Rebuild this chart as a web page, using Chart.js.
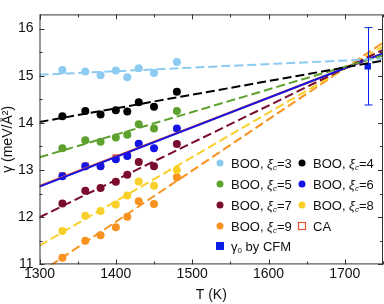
<!DOCTYPE html>
<html>
<head>
<meta charset="utf-8">
<script src="https://cdn.jsdelivr.net/npm/chart.js@4"></script>
<style>
  html, body { margin: 0; padding: 0; background: #fff; }
  #wrap { width: 384px; height: 304px; }
</style>
</head>
<body>
<div id="wrap"><canvas id="chart" width="384" height="304"></canvas></div>
<script>
// temperatures of the BOO points
const temps = [1330, 1360, 1380, 1400, 1415, 1430, 1450, 1480];

// surface tension per xi_c
const boo3 = [15.12, 15.09, 15.01, 15.11, 14.97, 15.16, 15.06, 15.29];
const boo4 = [14.14, 14.25, 14.18, 14.27, 14.24, 14.44, 14.34, 14.66];
const boo5 = [13.46, 13.63, 13.60, 13.69, 13.75, 13.97, 13.88, 14.25];
const boo6 = [12.87, 13.08, 13.08, 13.23, 13.30, 13.56, 13.46, 13.88];
const boo7 = [12.29, 12.56, 12.62, 12.75, 12.90, 13.17, 13.08, 13.55];
const boo8 = [11.71, 12.03, 12.13, 12.27, 12.46, 12.76, 12.67, 13.00];
const boo9 = [11.14, 11.50, 11.62, 11.79, 12.01, 12.34, 12.28, 12.85];
const caTemps = [1330, 1360, 1380, 1400, 1415];
const ca = [12.88, 13.09, 13.09, 13.26, 13.31];

// fitted lines, value at each end
const fitT = [1300, 1750];
const fit3 = [15.02, 15.36];
const fit4 = [14.02, 15.32];
const fit5 = [13.27, 15.43];
const fit6 = [12.65, 15.47];
const fit7 = [12.00, 15.55];
const fit8 = [11.40, 15.62];
const fit9 = [10.82, 15.70];
const fitCA = [12.66, 15.47];

// CFM value
const cfmT = [1730];
const cfmGamma = [15.2];
const cfmErr = [0.82];

const xTicks = [1300, 1400, 1500, 1600, 1700];
const yTicks = [11, 12, 13, 14, 15, 16];

const colors = {
  3: '#8ccaf2', 4: '#000000', 5: '#5ea12e', 6: '#1414e6',
  7: '#7a0c2e', 8: '#f9d02a', 9: '#f7931e', ca: '#e8552c', cfm: '#0a1ee6'
};

function pts(xs, ys) { return xs.map((x, i) => ({ x: x, y: ys[i] })); }

function fitSet(ys, color, dash, width) {
  return { type: 'line', data: pts(fitT, ys), borderColor: color, borderWidth: width || 2,
    borderDash: dash, pointRadius: 0, fill: false };
}
function dotSet(ys, color) {
  return { type: 'scatter', data: pts(temps, ys), backgroundColor: color,
    borderColor: color, pointRadius: 4, pointBorderWidth: 0 };
}

// chart.js paints the first dataset last, so blue sits above the CA line
const datasets = [
  fitSet(fit3, colors[3], [9, 4]),
  fitSet(fit4, colors[4], [9, 4]),
  fitSet(fit5, colors[5], [9, 4]),
  fitSet(fit6, colors[6], [], 2),
  fitSet(fitCA, colors.ca, [], 2.2),
  fitSet(fit7, colors[7], [9, 4]),
  fitSet(fit8, colors[8], [9, 4]),
  fitSet(fit9, colors[9], [9, 4]),
  dotSet(boo3, colors[3]),
  dotSet(boo4, colors[4]),
  dotSet(boo5, colors[5]),
  dotSet(boo6, colors[6]),
  { type: 'scatter', data: pts(caTemps, ca), pointStyle: 'rect', pointRadius: 4,
    backgroundColor: 'rgba(0,0,0,0)', borderColor: colors.ca, pointBorderWidth: 1.2 },
  dotSet(boo7, colors[7]),
  dotSet(boo8, colors[8]),
  dotSet(boo9, colors[9]),
  { type: 'scatter', data: pts(cfmT, cfmGamma), pointStyle: 'rect', pointRadius: 4.5,
    backgroundColor: colors.cfm, borderColor: colors.cfm, pointBorderWidth: 0 }
];

const font = '"Liberation Sans", Arial, sans-serif';

// frame, inward ticks, error bar and the legend
const extras = {
  id: 'extras',
  afterDatasetsDraw(chart) {
    const ctx = chart.ctx;
    const a = chart.chartArea;
    const xs = chart.scales.x, ys = chart.scales.y;
    ctx.save();

    // error bar
    ctx.strokeStyle = colors.cfm;
    ctx.lineWidth = 1;
    cfmT.forEach((t, i) => {
      const px = Math.round(xs.getPixelForValue(t)) + 0.5;
      const top = ys.getPixelForValue(cfmGamma[i] + cfmErr[i]);
      const bot = ys.getPixelForValue(cfmGamma[i] - cfmErr[i]);
      ctx.beginPath();
      ctx.moveTo(px, top); ctx.lineTo(px, bot);
      ctx.moveTo(px - 4, top); ctx.lineTo(px + 4, top);
      ctx.moveTo(px - 4, bot); ctx.lineTo(px + 4, bot);
      ctx.stroke();
    });

    // frame
    ctx.strokeStyle = '#333';
    ctx.lineWidth = 1;
    ctx.strokeRect(a.left + 0.5, a.top + 0.5, a.right - a.left - 1, a.bottom - a.top - 1);

    // inward ticks
    ctx.beginPath();
    for (let t = 1300; t <= 1750; t += 50) {
      const px = Math.round(xs.getPixelForValue(t)) + 0.5;
      const len = t % 100 === 0 ? 5 : 3;
      ctx.moveTo(px, a.bottom); ctx.lineTo(px, a.bottom - len);
      ctx.moveTo(px, a.top); ctx.lineTo(px, a.top + len);
    }
    for (let v = 11; v <= 16.3; v += 0.5) {
      const py = Math.round(ys.getPixelForValue(v)) + 0.5;
      const len = Number.isInteger(v) ? 5 : 3;
      ctx.moveTo(a.left, py); ctx.lineTo(a.left + len, py);
      ctx.moveTo(a.right, py); ctx.lineTo(a.right - len, py);
    }
    ctx.stroke();

    // legend
    const rows = [
      [[220, 163, 'dot', colors[3], 3], [302, 163, 'dot', colors[4], 4]],
      [[220, 184, 'dot', colors[5], 5], [302, 184, 'dot', colors[6], 6]],
      [[220, 205, 'dot', colors[7], 7], [302, 205, 'dot', colors[8], 8]],
      [[220, 226, 'dot', colors[9], 9], [302, 226, 'open', colors.ca, 'CA']],
      [[220, 246, 'sq', colors.cfm, 'CFM']]
    ];
    ctx.textBaseline = 'middle';
    rows.forEach(row => row.forEach(([x, y, kind, col, lab]) => {
      if (kind === 'dot') {
        ctx.fillStyle = col;
        ctx.beginPath(); ctx.arc(x, y, 3.5, 0, Math.PI * 2); ctx.fill();
      } else if (kind === 'open') {
        ctx.strokeStyle = col; ctx.lineWidth = 1.2;
        ctx.strokeRect(x - 3.5, y - 3.5, 7, 7);
      } else {
        ctx.fillStyle = col; ctx.fillRect(x - 4, y - 4, 8, 8);
      }
      ctx.fillStyle = '#111';
      let tx = x + 11;
      if (lab === 'CA') {
        ctx.font = '13px ' + font; ctx.fillText('CA', tx, y + 1);
      } else if (lab === 'CFM') {
        ctx.font = '13px ' + font; ctx.fillText('γ', tx, y + 1);
        tx += ctx.measureText('γ').width;
        ctx.font = '8px ' + font; ctx.fillText('0', tx, y + 5);
        tx += ctx.measureText('0').width;
        ctx.font = '13px ' + font; ctx.fillText(' by CFM', tx, y + 1);
      } else {
        ctx.font = '13px ' + font; ctx.fillText('BOO, ', tx, y + 1);
        tx += ctx.measureText('BOO, ').width;
        ctx.font = 'italic 13px ' + font; ctx.fillText('ξ', tx, y + 1);
        tx += ctx.measureText('ξ').width;
        ctx.font = 'italic 8px ' + font; ctx.fillText('c', tx, y + 5);
        tx += ctx.measureText('c').width;
        ctx.font = '13px ' + font; ctx.fillText('=' + lab, tx, y + 1);
      }
    }));
    ctx.restore();
  }
};

new Chart(document.getElementById('chart'), {
  type: 'scatter',
  data: { datasets: datasets },
  options: {
    responsive: false,
    animation: false,
    layout: { autoPadding: false, padding: { top: 7, right: 1, left: 0, bottom: 0 } },
    plugins: { legend: { display: false }, tooltip: { enabled: false } },
    scales: {
      x: {
        type: 'linear', min: 1300, max: 1750,
        afterBuildTicks: s => { s.ticks = xTicks.map(v => ({ value: v })); },
        grid: { display: false, drawTicks: false },
        border: { display: false },
        ticks: { color: '#111', font: { family: font, size: 14 }, padding: 1, maxRotation: 0,
          callback: v => String(v) },
        title: { display: true, text: 'T (K)', color: '#111', font: { family: font, size: 14 },
          padding: { top: 4, bottom: 0 } }
      },
      y: {
        type: 'linear', min: 11, max: 16.3,
        afterBuildTicks: s => { s.ticks = yTicks.map(v => ({ value: v })); },
        afterFit: s => { s.width = 39.5; },
        grid: { display: false, drawTicks: false },
        border: { display: false },
        ticks: { color: '#111', font: { family: font, size: 14 }, padding: 6 },
        title: { display: true, text: 'γ (meV/Å²)', color: '#111', font: { family: font, size: 14 }, padding: 0 }
      }
    }
  },
  plugins: [extras]
});
</script>
</body>
</html>
